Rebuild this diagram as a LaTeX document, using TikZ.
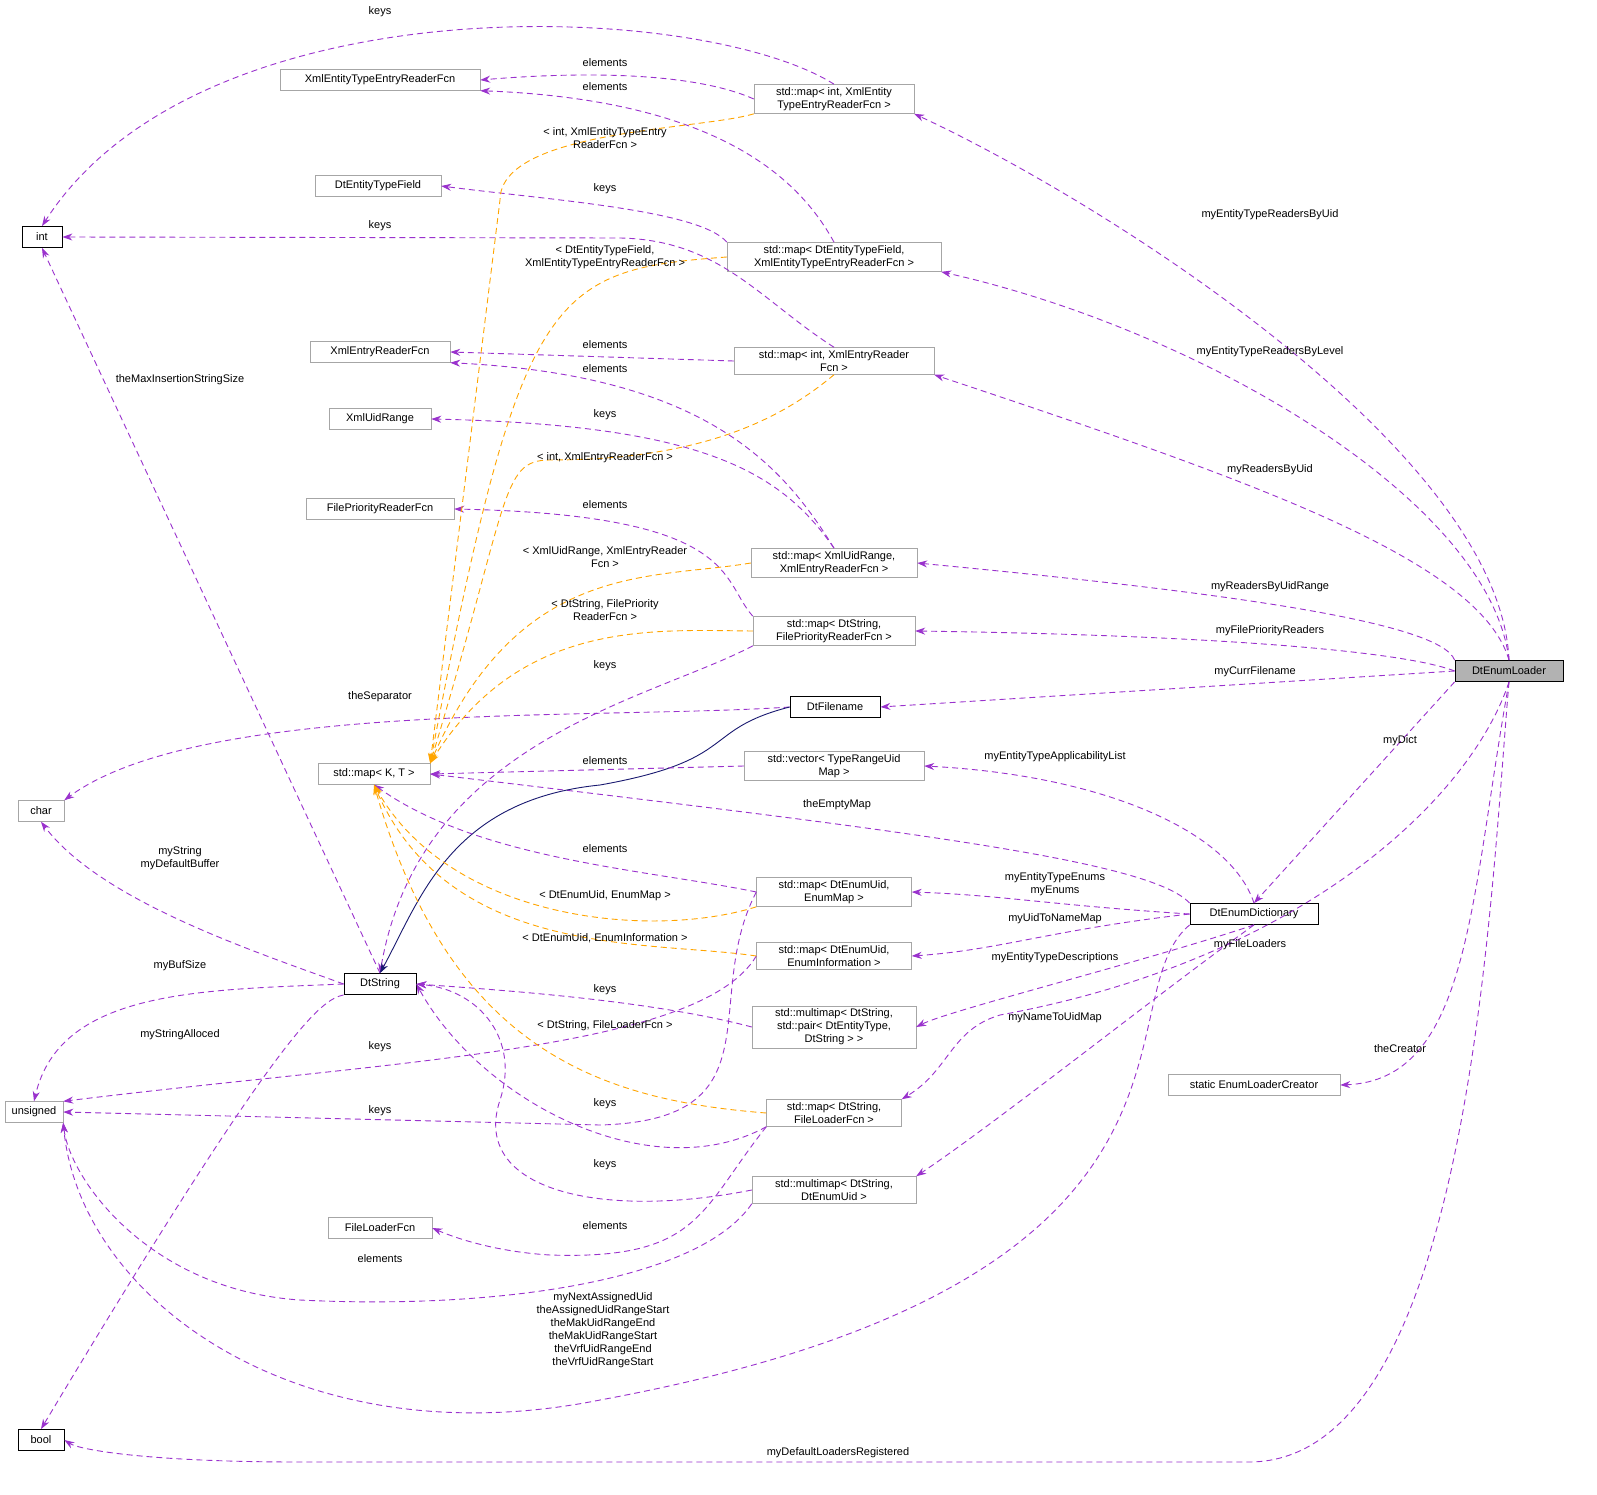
\documentclass[tikz,border=0pt]{standalone}
\usepackage{fontspec}
\setmainfont{Liberation Sans}
\usetikzlibrary{arrows.meta}
\definecolor{navy}{RGB}{25,25,112}
\definecolor{purp}{RGB}{154,50,205}
\definecolor{orng}{RGB}{255,165,0}
\begin{document}
\begin{tikzpicture}[x=1pt,y=-1pt,
  box/.style={draw=black!35,fill=white,font=\fontsize{11}{13}\selectfont,inner sep=3pt,minimum height=21pt,align=center},
  bk/.style={box,draw=black,thick},
  e/.style={dash pattern=on 6pt off 4pt,draw=purp,-{Stealth[length=10pt,width=7pt]},line width=0.9pt},
  t/.style={dash pattern=on 6pt off 4pt,draw=orng,-{Stealth[length=10pt,width=7pt]},line width=0.9pt},
  lbl/.style={font=\fontsize{11}{13}\selectfont,align=center,inner sep=1pt}]
\useasboundingbox (0,0) rectangle (1597,1495);
\fill[white] (0,0) rectangle (1597,1495);
% nodes
\node[bk,fill=black!30,minimum width=108pt] (dl) at (1509,671) {DtEnumLoader};
\node[box,minimum width=200pt] (xete) at (380,80) {XmlEntityTypeEntryReaderFcn};
\node[box,minimum width=160pt] (m1) at (834,99) {std::map< int, XmlEntity\\TypeEntryReaderFcn >};
\node[bk,minimum width=40pt] (int) at (42,237) {int};
\node[box,minimum width=126pt] (detf) at (378,186) {DtEntityTypeField};
\node[box,minimum width=214pt] (m2) at (834,257) {std::map< DtEntityTypeField,\\XmlEntityTypeEntryReaderFcn >};
\node[box,minimum width=140pt] (xer) at (380,352) {XmlEntryReaderFcn};
\node[box,minimum width=200pt] (m3) at (834,361) {std::map< int, XmlEntryReader\\Fcn >};
\node[box,minimum width=102pt] (xur) at (380,419) {XmlUidRange};
\node[box,minimum width=148pt] (fpr) at (380,509) {FilePriorityReaderFcn};
\node[box,minimum width=166pt] (m4) at (834,563) {std::map< XmlUidRange,\\XmlEntryReaderFcn >};
\node[box,minimum width=162pt] (m5) at (834,631) {std::map< DtString,\\FilePriorityReaderFcn >};
\node[bk,minimum width=90pt] (dtf) at (835,707) {DtFilename};
\node[box,minimum width=112pt] (mkt) at (374,774) {std::map< K, T >};
\node[box,minimum width=180pt] (vec) at (834,766) {std::vector< TypeRangeUid\\Map >};
\node[box,minimum width=46pt] (char) at (41,811) {char};
\node[box,minimum width=155pt] (m6) at (834,892) {std::map< DtEnumUid,\\EnumMap >};
\node[bk,minimum width=128pt] (dd) at (1254,914) {DtEnumDictionary};
\node[box,minimum width=155pt] (m7) at (834,956) {std::map< DtEnumUid,\\EnumInformation >};
\node[bk,minimum width=72pt] (dts) at (380,984) {DtString};
\node[box,minimum width=164pt] (mm1) at (834,1027) {std::multimap< DtString,\\std::pair< DtEntityType,\\DtString > >};
\node[box,minimum width=172pt] (elc) at (1254,1085) {static EnumLoaderCreator};
\node[box,minimum width=58pt] (uns) at (34,1112) {unsigned};
\node[box,minimum width=135pt] (m8) at (834,1113) {std::map< DtString,\\FileLoaderFcn >};
\node[box,minimum width=164pt] (mm2) at (834,1190) {std::multimap< DtString,\\DtEnumUid >};
\node[box,minimum width=104pt] (flf) at (380,1228) {FileLoaderFcn};
\node[bk,minimum width=46pt] (bool) at (41,1440) {bool};
% DtEnumLoader edges
\draw[e] (dl.north) .. controls (1500,450) and (1100,200) .. (m1.south east);
\draw[e] (dl.north) .. controls (1490,500) and (1200,330) .. (m2.south east);
\draw[e] (dl.north) .. controls (1480,560) and (1250,480) .. (m3.south east);
\draw[e] (dl.north west) .. controls (1440,620) and (1200,590) .. (m4.east);
\draw[e] (dl.west) .. controls (1400,650) and (1200,635) .. (m5.east);
\draw[e] (dl.west) -- (dtf.east);
\draw[e] (dl.south west) -- (dd.north);
\draw[e] (dl.south) .. controls (1470,800) and (1300,960) .. (1000,1015) .. controls (950,1030) and (950,1070) .. (m8.north east);
\draw[e] (dl.south) .. controls (1470,900) and (1470,1080) .. (elc.east);
\draw[e] (dl.south) .. controls (1490,900) and (1470,1460) .. (1250,1462) -- (300,1462) .. controls (150,1462) and (80,1450) .. (bool.east);
% DtEnumDictionary edges
\draw[e] (dd.north) .. controls (1230,830) and (1100,775) .. (vec.east);
\draw[e] (dd.north west) .. controls (1150,860) and (900,830) .. (mkt.east);
\draw[e] (dd.west) .. controls (1050,905) and (1000,895) .. (m6.east);
\draw[e] (dd.west) .. controls (1050,930) and (1000,950) .. (m7.east);
\draw[e] (dd.south) .. controls (1150,960) and (950,1010) .. (mm1.east);
\draw[e] (dd.south) .. controls (1150,1000) and (1000,1120) .. (mm2.north east);
\draw[e] (dd.south west) .. controls (1100,1000) and (1250,1280) .. (600,1400) .. controls (300,1460) and (80,1300) .. (uns.south east);
% maps to value/key types
\draw[e] (m1.north) .. controls (700,0) and (200,-20) .. (int.north);
\draw[e] (m1.west) .. controls (700,75) and (600,70) .. (xete.east);
\draw[e] (m2.north) .. controls (800,180) and (720,100) .. (xete.south east);
\draw[e] (m2.north west) .. controls (700,210) and (550,200) .. (detf.east);
\draw[e] (m3.north) .. controls (760,300) and (720,240) .. (620,238) -- (int.east);
\draw[e] (m3.west) -- (xer.east);
\draw[e] (m4.north) .. controls (780,460) and (700,375) .. (xer.south east);
\draw[e] (m4.north) .. controls (780,470) and (700,425) .. (xur.east);
\draw[e] (m5.north west) .. controls (720,580) and (740,515) .. (fpr.east);
\draw[e] (m5.south west) .. controls (650,700) and (420,740) .. (dts.north);
\draw[e] (dtf.west) .. controls (600,720) and (200,700) .. (char.north east);
\draw[navy,-{Stealth[length=10pt,width=7pt]},line width=0.9pt] (dtf.west) .. controls (700,730) and (740,760) .. (600,785) .. controls (450,800) and (420,900) .. (dts.north);
\draw[e] (vec.west) -- (mkt.east);
\draw[e] (m6.west) .. controls (650,870) and (480,860) .. (mkt.south);
\draw[e] (m6.west) .. controls (700,1000) and (780,1120) .. (600,1125) -- (uns.east);
\draw[e] (m7.west) .. controls (700,1050) and (400,1060) .. (uns.north east);
\draw[e] (mm1.west) .. controls (650,1000) and (500,990) .. (dts.east);
\draw[e] (m8.south west) .. controls (650,1190) and (480,1100) .. (dts.east);
\draw[e] (m8.south west) .. controls (700,1210) and (700,1260) .. (550,1255) .. controls (500,1252) and (460,1240) .. (flf.east);
\draw[e] (mm2.west) .. controls (600,1220) and (470,1190) .. (500,1100) .. controls (520,1040) and (480,990) .. (dts.east);
\draw[e] (mm2.south west) .. controls (700,1280) and (500,1310) .. (300,1300) .. controls (150,1290) and (70,1180) .. (uns.south east);
% DtString edges
\draw[e] (dts.north) -- (int.south);
\draw[e] (dts.west) .. controls (250,950) and (100,900) .. (char.south);
\draw[e] (dts.west) .. controls (200,990) and (60,990) .. (uns.north);
\draw[e] (dts.south west) .. controls (320,1000) and (280,1030) .. (bool.north);
% template edges
\draw[t] (m1.south west) .. controls (700,130) and (500,130) .. (500,200) -- (mkt.north east);
\draw[t] (m2.west) .. controls (550,270) and (520,290) .. (mkt.north east);
\draw[t] (m3.south) .. controls (780,420) and (700,460) .. (550,460) .. controls (500,460) and (510,500) .. (mkt.north east);
\draw[t] (m4.west) .. controls (650,580) and (520,560) .. (mkt.north east);
\draw[t] (m5.west) .. controls (650,630) and (520,620) .. (mkt.north east);
\draw[t] (m6.south west) .. controls (650,940) and (450,920) .. (mkt.south);
\draw[t] (m7.west) .. controls (650,940) and (450,960) .. (mkt.south);
\draw[t] (m8.west) .. controls (600,1100) and (450,1050) .. (mkt.south);
% labels
\node[lbl] (l1) at (1270,215) {myEntityTypeReadersByUid};
\node[lbl] (l2) at (1270,352) {myEntityTypeReadersByLevel};
\node[lbl] (l3) at (1270,470) {myReadersByUid};
\node[lbl] (l4) at (1270,587) {myReadersByUidRange};
\node[lbl] (l5) at (1270,631) {myFilePriorityReaders};
\node[lbl] (l6) at (1255,672) {myCurrFilename};
\node[lbl] (l7) at (1400,741) {myDict};
\node[lbl] (l8) at (1250,945) {myFileLoaders};
\node[lbl] (l9) at (1400,1049) {theCreator};
\node[lbl] (l10) at (838,1453) {myDefaultLoadersRegistered};
\node[lbl] (l11) at (1055,757) {myEntityTypeApplicabilityList};
\node[lbl] (l12) at (837,805) {theEmptyMap};
\node[lbl] (l13) at (1055,884) {myEntityTypeEnums\\myEnums};
\node[lbl] (l14) at (1055,919) {myUidToNameMap};
\node[lbl] (l15) at (1055,958) {myEntityTypeDescriptions};
\node[lbl] (l16) at (1055,1018) {myNameToUidMap};
\node[lbl] (l17) at (603,1330) {myNextAssignedUid\\theAssignedUidRangeStart\\theMakUidRangeEnd\\theMakUidRangeStart\\theVrfUidRangeEnd\\theVrfUidRangeStart};
\node[lbl] (l18) at (380,12) {keys};
\node[lbl] (l19) at (605,63) {elements};
\node[lbl] (l20) at (605,87) {elements};
\node[lbl] (l21) at (605,138) {< int, XmlEntityTypeEntry\\ReaderFcn >};
\node[lbl] (l22) at (605,189) {keys};
\node[lbl] (l23) at (380,226) {keys};
\node[lbl] (l24) at (605,257) {< DtEntityTypeField,\\XmlEntityTypeEntryReaderFcn >};
\node[lbl] (l25) at (605,345) {elements};
\node[lbl] (l26) at (605,369) {elements};
\node[lbl] (l27) at (605,415) {keys};
\node[lbl] (l28) at (605,458) {< int, XmlEntryReaderFcn >};
\node[lbl] (l29) at (605,505) {elements};
\node[lbl] (l30) at (605,557) {< XmlUidRange, XmlEntryReader\\Fcn >};
\node[lbl] (l31) at (605,610) {< DtString, FilePriority\\ReaderFcn >};
\node[lbl] (l32) at (605,666) {keys};
\node[lbl] (l33) at (380,697) {theSeparator};
\node[lbl] (l34) at (605,761) {elements};
\node[lbl] (l35) at (605,849) {elements};
\node[lbl] (l36) at (605,896) {< DtEnumUid, EnumMap >};
\node[lbl] (l37) at (605,938) {< DtEnumUid, EnumInformation >};
\node[lbl] (l38) at (605,990) {keys};
\node[lbl] (l39) at (605,1026) {< DtString, FileLoaderFcn >};
\node[lbl] (l40) at (380,1047) {keys};
\node[lbl] (l41) at (605,1104) {keys};
\node[lbl] (l42) at (380,1111) {keys};
\node[lbl] (l43) at (605,1165) {keys};
\node[lbl] (l44) at (605,1226) {elements};
\node[lbl] (l45) at (380,1259) {elements};
\node[lbl] (l46) at (180,380) {theMaxInsertionStringSize};
\node[lbl] (l47) at (180,858) {myString\\myDefaultBuffer};
\node[lbl] (l48) at (180,966) {myBufSize};
\node[lbl] (l49) at (180,1035) {myStringAlloced};
\end{tikzpicture}
\end{document}
